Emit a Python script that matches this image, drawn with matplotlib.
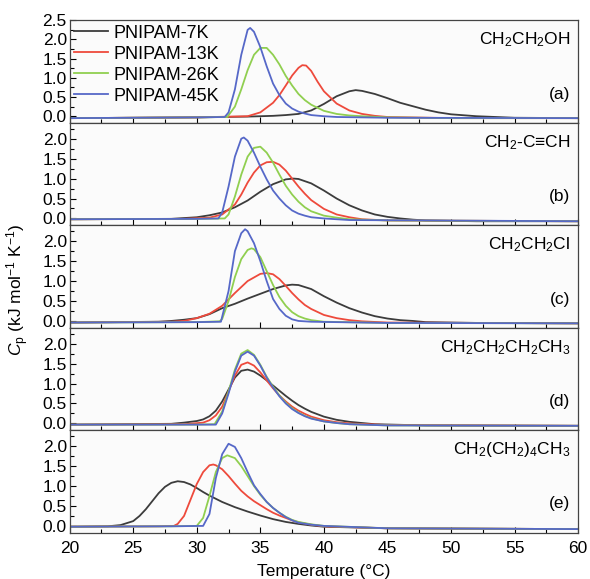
import numpy as np
import matplotlib
matplotlib.use("Agg")
import matplotlib.pyplot as plt
from matplotlib.ticker import MultipleLocator

plt.rcParams['font.family'] = ['Liberation Sans', 'DejaVu Sans']
plt.rcParams['mathtext.fontset'] = 'custom'
plt.rcParams['mathtext.rm'] = 'Liberation Sans'
plt.rcParams['mathtext.it'] = 'Liberation Sans:italic'

# ---- data (temperature in C, Cp in kJ/mol/K) ----
series_names = ["PNIPAM-7K", "PNIPAM-13K", "PNIPAM-26K", "PNIPAM-45K"]
series_colors = ["#3c3c3c", "#ee4a3c", "#90cf50", "#5668c8"]
panel_titles = ["CH$_2$CH$_2$OH", "CH$_2$-C\u2261CH", "CH$_2$CH$_2$Cl",
                "CH$_2$CH$_2$CH$_2$CH$_3$", "CH$_2$(CH$_2$)$_4$CH$_3$"]
panel_tags = ["(a)", "(b)", "(c)", "(d)", "(e)"]

# panel (a) CH2CH2OH
a_7k_t = [20, 30, 34, 36, 37, 38, 39, 40, 41, 42, 42.5, 43, 44, 45, 46, 47, 48, 49, 50, 52, 55, 60]
a_7k_cp = [-0.05, -0.03, -0.01, 0.01, 0.03, 0.06, 0.15, 0.32, 0.52, 0.65, 0.68, 0.66, 0.58, 0.47, 0.35, 0.26, 0.17, 0.1, 0.05, 0.0, -0.04, -0.05]
a_13k_t = [20, 30, 34, 35, 36, 36.5, 37, 37.5, 38, 38.3, 38.6, 39, 39.5, 40, 41, 42, 43, 44, 45, 50, 60]
a_13k_cp = [-0.05, -0.03, 0.0, 0.1, 0.35, 0.55, 0.8, 1.06, 1.26, 1.33, 1.32, 1.18, 0.9, 0.65, 0.33, 0.15, 0.06, 0.01, -0.02, -0.05, -0.05]
a_26k_t = [20, 30, 32.4, 33, 33.5, 34, 34.5, 35, 35.5, 36, 36.5, 37, 37.5, 38, 38.5, 39, 40, 41, 42, 43, 45, 50, 60]
a_26k_cp = [-0.05, -0.03, -0.02, 0.25, 0.7, 1.2, 1.6, 1.78, 1.78, 1.6, 1.35, 1.05, 0.8, 0.58, 0.42, 0.3, 0.14, 0.06, 0.02, 0.0, -0.03, -0.05, -0.05]
a_45k_t = [20, 30, 32.2, 32.5, 33, 33.5, 34, 34.2, 34.5, 35, 35.5, 36, 36.5, 37, 37.5, 38, 38.5, 39, 40, 41, 45, 60]
a_45k_cp = [-0.05, -0.03, -0.02, 0.1, 0.7, 1.6, 2.25, 2.3, 2.2, 1.8, 1.3, 0.85, 0.55, 0.33, 0.2, 0.12, 0.07, 0.03, 0.0, -0.02, -0.04, -0.05]

# panel (b) CH2-C≡CH
b_7k_t = [20, 28, 30, 31, 32, 33, 34, 35, 36, 37, 37.6, 38, 39, 40, 41, 42, 43, 44, 45, 46, 47, 48, 52, 60]
b_7k_cp = [-0.02, -0.01, 0.03, 0.08, 0.15, 0.28, 0.45, 0.67, 0.86, 0.98, 1.0, 0.99, 0.88, 0.7, 0.5, 0.33, 0.2, 0.1, 0.04, 0.0, -0.03, -0.05, -0.07, -0.07]
b_13k_t = [20, 29, 31, 32, 33, 33.5, 34, 34.5, 35, 35.5, 36, 36.5, 37, 37.5, 38, 38.5, 39, 40, 41, 42, 43, 45, 60]
b_13k_cp = [-0.02, -0.01, 0.02, 0.1, 0.35, 0.6, 0.9, 1.15, 1.33, 1.41, 1.42, 1.35, 1.2, 1.0, 0.8, 0.62, 0.46, 0.24, 0.1, 0.03, -0.02, -0.05, -0.07]
b_26k_t = [20, 30, 32.2, 32.5, 33, 33.5, 34, 34.5, 35, 35.5, 36, 36.5, 37, 37.5, 38, 38.5, 39, 40, 41, 42, 45, 60]
b_26k_cp = [-0.02, -0.01, 0.0, 0.1, 0.55, 1.1, 1.55, 1.77, 1.8, 1.65, 1.4, 1.1, 0.82, 0.6, 0.42, 0.28, 0.18, 0.07, 0.02, -0.02, -0.05, -0.07]
b_45k_t = [20, 30, 31.7, 32, 32.5, 33, 33.5, 33.7, 34, 34.5, 35, 35.5, 36, 36.5, 37, 37.5, 38, 38.5, 39, 40, 42, 60]
b_45k_cp = [-0.02, -0.01, 0.0, 0.15, 0.8, 1.55, 2.0, 2.03, 1.95, 1.65, 1.3, 0.98, 0.7, 0.5, 0.33, 0.2, 0.12, 0.07, 0.03, 0.0, -0.04, -0.07]

# panel (c) CH2CH2Cl
c_7k_t = [20, 27, 28, 29, 30, 31, 32, 33, 34, 35, 36, 37, 37.5, 38, 39, 40, 41, 42, 43, 44, 45, 46, 47, 48, 52, 60]
c_7k_cp = [-0.04, -0.02, 0.0, 0.03, 0.07, 0.17, 0.32, 0.43, 0.56, 0.68, 0.8, 0.89, 0.91, 0.9, 0.8, 0.62, 0.46, 0.32, 0.21, 0.12, 0.06, 0.02, 0.0, -0.03, -0.05, -0.06]
c_13k_t = [20, 28, 29, 30, 31, 32, 33, 34, 35, 35.5, 36, 36.5, 37, 37.5, 38, 38.5, 39, 40, 41, 42, 43, 45, 60]
c_13k_cp = [-0.04, -0.02, 0.0, 0.07, 0.18, 0.38, 0.7, 1.0, 1.18, 1.2, 1.17, 1.05, 0.88, 0.7, 0.54, 0.4, 0.3, 0.15, 0.07, 0.02, -0.01, -0.04, -0.06]
c_26k_t = [20, 30, 31.8, 32, 32.5, 33, 33.5, 34, 34.3, 34.5, 35, 35.5, 36, 36.5, 37, 37.5, 38, 38.5, 39, 40, 45, 60]
c_26k_cp = [-0.04, -0.03, -0.01, 0.05, 0.5, 1.1, 1.55, 1.78, 1.82, 1.8, 1.6, 1.25, 0.9, 0.6, 0.38, 0.22, 0.12, 0.06, 0.02, -0.02, -0.05, -0.06]
c_45k_t = [20, 30, 31.9, 32.5, 33, 33.5, 33.8, 34, 34.5, 35, 35.5, 36, 36.5, 37, 37.5, 38, 39, 45, 60]
c_45k_cp = [-0.04, -0.03, -0.02, 0.75, 1.75, 2.2, 2.3, 2.25, 1.95, 1.5, 1.0, 0.55, 0.3, 0.13, 0.04, 0.0, -0.02, -0.05, -0.06]

# panel (d) CH2CH2CH2CH3
d_7k_t = [20, 28, 29, 30, 30.5, 31, 31.5, 32, 32.5, 33, 33.5, 34, 34.5, 35, 35.5, 36, 36.5, 37, 37.5, 38, 38.5, 39, 40, 41, 42, 43, 44, 48, 60]
d_7k_cp = [-0.03, -0.01, 0.02, 0.06, 0.1, 0.18, 0.32, 0.55, 0.85, 1.15, 1.32, 1.35, 1.3, 1.2, 1.08, 0.95, 0.82, 0.69, 0.57, 0.46, 0.37, 0.29, 0.17, 0.09, 0.04, 0.01, -0.02, -0.05, -0.06]
d_13k_t = [20, 29, 30.5, 31, 31.5, 32, 32.5, 33, 33.5, 34, 34.5, 35, 35.5, 36, 36.5, 37, 37.5, 38, 38.5, 39, 40, 41, 42, 45, 60]
d_13k_cp = [-0.03, -0.02, 0.02, 0.08, 0.2, 0.42, 0.8, 1.2, 1.47, 1.53, 1.45, 1.28, 1.08, 0.88, 0.7, 0.55, 0.42, 0.32, 0.24, 0.17, 0.08, 0.03, 0.0, -0.04, -0.06]
d_26k_t = [20, 30, 31.4, 32, 32.5, 33, 33.5, 34, 34.5, 35, 35.5, 36, 36.5, 37, 37.5, 38, 38.5, 39, 40, 41, 42, 45, 60]
d_26k_cp = [-0.03, -0.03, -0.02, 0.3, 0.8, 1.35, 1.75, 1.84, 1.72, 1.47, 1.17, 0.92, 0.7, 0.52, 0.38, 0.27, 0.19, 0.13, 0.05, 0.01, -0.02, -0.05, -0.06]
d_45k_t = [20, 30, 31.5, 32, 32.5, 33, 33.5, 34, 34.5, 35, 35.5, 36, 36.5, 37, 37.5, 38, 38.5, 39, 40, 41, 42, 45, 60]
d_45k_cp = [-0.03, -0.03, -0.03, 0.25, 0.75, 1.3, 1.7, 1.8, 1.7, 1.45, 1.15, 0.9, 0.68, 0.5, 0.36, 0.26, 0.18, 0.12, 0.05, 0.01, -0.02, -0.05, -0.06]

# panel (e) CH2(CH2)4CH3
e_7k_t = [20, 23, 24, 25, 25.5, 26, 26.5, 27, 27.5, 28, 28.5, 29, 29.5, 30, 30.5, 31, 32, 33, 34, 35, 36, 37, 38, 39, 40, 45, 60]
e_7k_cp = [-0.02, -0.01, 0.02, 0.12, 0.25, 0.42, 0.62, 0.82, 0.98, 1.08, 1.12, 1.1, 1.04, 0.95, 0.85, 0.76, 0.6, 0.47, 0.36, 0.26, 0.17, 0.1, 0.05, 0.01, -0.02, -0.06, -0.08]
e_13k_t = [20, 27, 28.2, 28.5, 29, 29.5, 30, 30.5, 31, 31.3, 31.5, 32, 32.5, 33, 33.5, 34, 34.5, 35, 35.5, 36, 36.5, 37, 37.5, 38, 39, 40, 45, 60]
e_13k_cp = [-0.02, -0.01, 0.0, 0.05, 0.25, 0.65, 1.05, 1.35, 1.52, 1.54, 1.52, 1.42, 1.25, 1.06, 0.88, 0.74, 0.62, 0.52, 0.42, 0.33, 0.26, 0.2, 0.14, 0.09, 0.03, -0.01, -0.06, -0.08]
e_26k_t = [20, 28, 30, 30.5, 31, 31.5, 32, 32.4, 33, 33.5, 34, 34.5, 35, 35.5, 36, 36.5, 37, 37.5, 38, 39, 40, 45, 60]
e_26k_cp = [-0.02, -0.01, 0.0, 0.2, 0.75, 1.35, 1.7, 1.77, 1.7, 1.5, 1.25, 1.0, 0.78, 0.6, 0.45, 0.33, 0.23, 0.15, 0.1, 0.04, 0.0, -0.06, -0.08]
e_45k_t = [20, 28, 30.5, 31, 31.5, 32, 32.5, 33, 33.5, 34, 34.5, 35, 35.5, 36, 36.5, 37, 37.5, 38, 39, 40, 45, 60]
e_45k_cp = [-0.02, -0.01, 0.0, 0.3, 1.2, 1.8, 2.06, 1.98, 1.7, 1.35, 1.02, 0.8, 0.6, 0.45, 0.33, 0.22, 0.14, 0.08, 0.03, 0.0, -0.06, -0.08]

panels = [
    [(a_7k_t, a_7k_cp), (a_13k_t, a_13k_cp), (a_26k_t, a_26k_cp), (a_45k_t, a_45k_cp)],
    [(b_7k_t, b_7k_cp), (b_13k_t, b_13k_cp), (b_26k_t, b_26k_cp), (b_45k_t, b_45k_cp)],
    [(c_7k_t, c_7k_cp), (c_13k_t, c_13k_cp), (c_26k_t, c_26k_cp), (c_45k_t, c_45k_cp)],
    [(d_7k_t, d_7k_cp), (d_13k_t, d_13k_cp), (d_26k_t, d_26k_cp), (d_45k_t, d_45k_cp)],
    [(e_7k_t, e_7k_cp), (e_13k_t, e_13k_cp), (e_26k_t, e_26k_cp), (e_45k_t, e_45k_cp)],
]

fig, axes = plt.subplots(5, 1, figsize=(5.9, 5.79), dpi=100, sharex=True)
fig.subplots_adjust(left=0.118, right=0.98, top=0.965, bottom=0.08, hspace=0)

for i, ax in enumerate(axes):
    for (t, cp), name, col in zip(panels[i], series_names, series_colors):
        ax.plot(t, cp, color=col, lw=1.3, label=name, solid_joinstyle='round')
    ax.set_facecolor("#fbfbfb")
    ax.set_xlim(20, 60)
    if i == 0:
        ax.set_ylim(-0.17, 2.5)
    else:
        ax.set_ylim(-0.17, 2.4)
    ax.yaxis.set_major_locator(MultipleLocator(0.5))
    ax.yaxis.set_minor_locator(MultipleLocator(0.25))
    ax.xaxis.set_major_locator(MultipleLocator(5))
    ax.xaxis.set_minor_locator(MultipleLocator(2.5))
    ax.yaxis.set_major_formatter(matplotlib.ticker.FormatStrFormatter('%.1f'))
    ax.tick_params(which='both', direction='in', labelsize=12.5, width=0.8, pad=2)
    ax.tick_params(axis='x', which='both', pad=6)
    ax.tick_params(which='major', length=4.5)
    ax.tick_params(which='minor', length=3)
    for sp in ax.spines.values():
        sp.set_linewidth(0.9)
        sp.set_color("#444444")
    ax.text(0.985, 0.9, panel_titles[i], transform=ax.transAxes, ha='right', va='top', fontsize=12.5)
    ax.text(0.985, 0.28, panel_tags[i], transform=ax.transAxes, ha='right', va='center', fontsize=12.5)

axes[0].legend(loc='upper left', frameon=False, fontsize=13, handlelength=1.9,
               handletextpad=0.3, labelspacing=0.22, borderaxespad=0.1, borderpad=0.15)
axes[-1].set_xlabel("Temperature (\u00b0C)", fontsize=12.5, labelpad=6)
fig.text(0.03, 0.5, "$C_\\mathrm{p}$ (kJ mol$^{-1}$ K$^{-1}$)", rotation=90,
         va='center', ha='center', fontsize=12.5)

fig.savefig("out.png", dpi=100)
